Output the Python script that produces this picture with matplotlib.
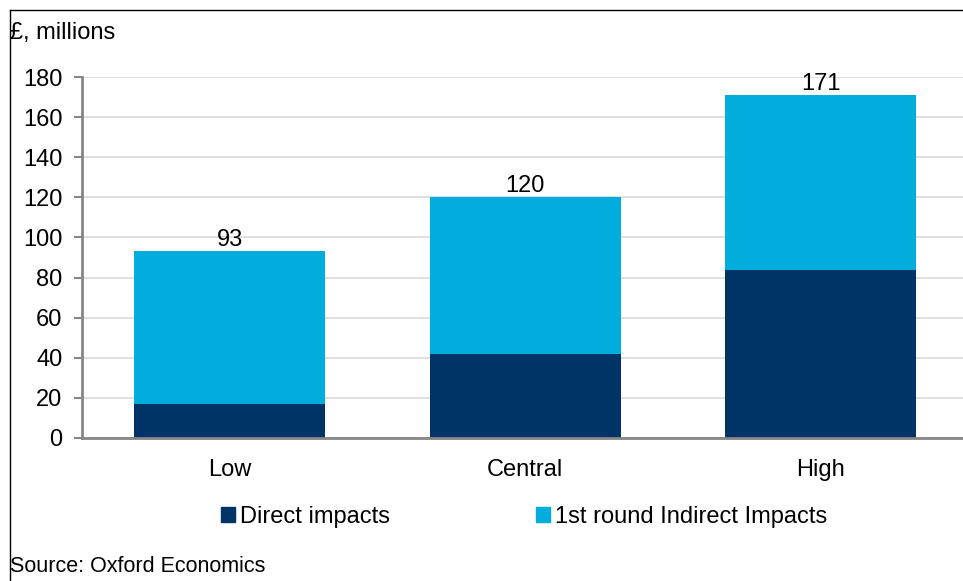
import matplotlib.pyplot as plt
from matplotlib.lines import Line2D
from matplotlib.patches import Patch

plt.rcParams['font.family'] = ['Liberation Sans', 'DejaVu Sans']

categories = ['Low', 'Central', 'High']
direct = [17, 42, 84]
indirect = [76, 78, 87]
totals = [93, 120, 171]

DARK = '#003366'
LIGHT = '#00addc'
FS = 17

fig = plt.figure(figsize=(9.63, 5.81), dpi=100)
ax = fig.add_axes([82 / 963, 1 - 438 / 581, 886.5 / 963, 361 / 581])

x = range(len(categories))
ax.bar(x, direct, width=0.646, color=DARK, zorder=3, label='Direct impacts')
ax.bar(x, indirect, width=0.646, bottom=direct, color=LIGHT, zorder=3,
       label='1st round Indirect Impacts')

for xi, t in zip(x, totals):
    ax.text(xi, t, str(t), ha='center', va='bottom', fontsize=FS, zorder=4)

ax.set_xlim(-0.5, 2.5)
ax.set_ylim(0, 180)
ax.set_yticks(range(0, 181, 20))
ax.set_xticks(list(x))
ax.set_xticklabels(categories)
ax.tick_params(axis='y', direction='out', length=6, width=1.5, color='#868686',
               labelsize=FS, pad=8)
ax.tick_params(axis='x', length=0, labelsize=FS, pad=15)
ax.grid(axis='y', color='#d9d9d9', linewidth=1.2, zorder=0)
for side in ['top', 'right']:
    ax.spines[side].set_visible(False)
ax.spines['left'].set_color('#868686')
ax.spines['left'].set_linewidth(2)
ax.spines['bottom'].set_color('#868686')
ax.spines['bottom'].set_linewidth(2)
ax.spines['bottom'].set_zorder(5)

handles = [Patch(color=DARK, label='Direct impacts'),
           Patch(color=LIGHT, label='1st round Indirect Impacts')]
fig.legend(handles=handles, loc='center', bbox_to_anchor=(524 / 963, 1 - 517 / 581),
           ncol=2, frameon=False, fontsize=FS, handlelength=0.6, handleheight=0.6,
           handletextpad=0.2, columnspacing=6.2)

fig.text(10 / 963, 1 - 33 / 581, '£, millions', fontsize=FS, va='center', ha='left')
fig.text(10 / 963, 1 - 567 / 581, 'Source: Oxford Economics', fontsize=15.5,
         va='center', ha='left')

# outer frame: top and left edges
fig.add_artist(Line2D([9.5 / 963, 9.5 / 963], [0, 1 - 9.5 / 581], color='black', linewidth=1))
fig.add_artist(Line2D([9.5 / 963, 1], [1 - 9.5 / 581, 1 - 9.5 / 581], color='black', linewidth=1))

fig.savefig('out.png', dpi=100)
